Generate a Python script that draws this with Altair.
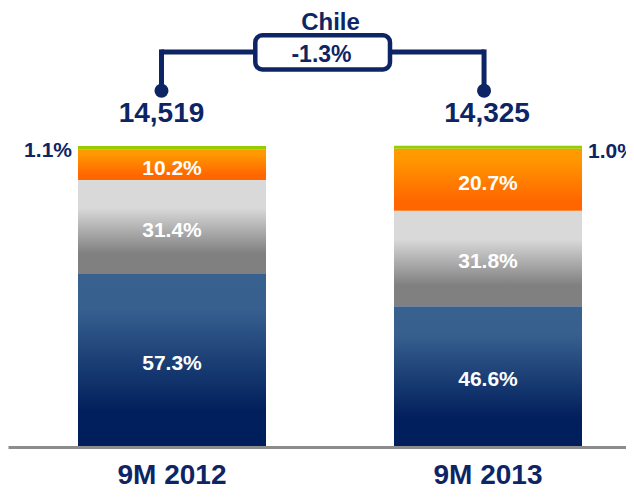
import altair as alt
import pandas as pd

# ---------------- data ----------------
periods = ["9M 2012", "9M 2013"]
totals = [14519, 14325]
region = "Chile"
change_label = "-1.3%"
segments = ["Segment 1", "Segment 2", "Segment 3", "Segment 4"]  # bottom -> top
share_2012 = [57.3, 31.4, 10.2, 1.1]
share_2013 = [46.6, 31.8, 20.7, 1.0]

# ---------------- styles ----------------
NAVY = "#0E2565"
FONT = "Liberation Sans"


def vgrad(stops):
    return alt.LinearGradient(
        gradient="linear", x1=0, y1=0, x2=0, y2=1,
        stops=[alt.GradientStop(offset=o, color=c) for o, c in stops],
    )


seg_fill = [
    vgrad([(0, "#38618F"), (0.2, "#37608F"), (0.8, "#011F5C"), (1, "#001E5B")]),
    vgrad([(0, "#D9D9D9"), (0.3, "#D9D9D9"), (0.78, "#808080"), (1, "#808080")]),
    vgrad([(0, "#FF9A00"), (0.15, "#FF9900"), (0.85, "#FF6600"), (1, "#FF6600")]),
    "#99CC00",
]

# ---------------- table built from the arrays ----------------
rows = []
for p, shares in zip(periods, [share_2012, share_2013]):
    base = 0.0
    for s, v in zip(segments, shares):
        rows.append(dict(period=p, segment=s, share=v, y0=base, y1=base + v,
                         mid=base + v / 2, label=f"{v:.1f}%"))
        base += v
df = pd.DataFrame(rows)
tot_df = pd.DataFrame(dict(period=periods, total=totals))
pair_df = pd.DataFrame(dict(a=[periods[0]], b=[periods[1]], region=[region],
                            change=[change_label]))

# ---------------- layout (value units on the y scale) ----------------
Y_DOMAIN = [-14.667, 146.0]
Y_TOTAL = 108.0
Y_DOT = 118.4
Y_BRACKET = 131.3
Y_BRACKET_TOP = 132.2
Y_BOX_TOP = 136.9
Y_BOX_BOT = 125.5
Y_CHANGE = 128.0
Y_REGION = 138.6
vert_bp = [0.444, 0.479]
total_bp = [0.444, 0.495]

xscale = alt.Scale(domain=periods, range=[0, 644], paddingInner=0.405, paddingOuter=0.2215)
xaxis = alt.Axis(domainColor="#8C8C8C", domainWidth=3, ticks=False, tickSize=0,
                 labelFont=FONT, labelFontWeight="bold", labelFontSize=28,
                 labelColor=NAVY, labelPadding=14, offset=-43, labelAngle=0,
                 grid=False, labelLimit=400)
yscale = alt.Scale(domain=Y_DOMAIN, nice=False, zero=False)


def X(field, bp=None):
    if bp is None:
        return alt.X(field, type="nominal", scale=xscale, axis=xaxis, title=None)
    return alt.X(field, type="nominal", scale=xscale, axis=xaxis, title=None, bandPosition=bp)


def Y(field=None, value=None):
    if value is not None:
        return alt.Y(datum=value, type="quantitative", scale=yscale, axis=None)
    return alt.Y(field, type="quantitative", scale=yscale, axis=None, title=None)


layers = []

# stacked bars
for seg, fill in zip(segments, seg_fill):
    layers.append(
        alt.Chart(df).transform_filter(alt.datum.segment == seg)
        .mark_bar(fill=fill, strokeWidth=0)
        .encode(x=X("period"), y=Y("y0"), y2="y1")
    )

# labels inside bars
layers.append(
    alt.Chart(df).transform_filter(alt.datum.segment != segments[-1])
    .mark_text(color="white", font=FONT, fontWeight="bold", fontSize=21,
               baseline="alphabetic", dy=10)
    .encode(x=X("period"), y=Y("mid"), text="label:N")
)

# small top-segment labels outside the bars
layers.append(
    alt.Chart(df).transform_filter((alt.datum.segment == segments[-1]) & (alt.datum.period == periods[0]))
    .mark_text(color=NAVY, font=FONT, fontWeight="bold", fontSize=21,
               baseline="alphabetic", align="right", dx=-6, dy=11)
    .encode(x=X("period", 0), y=Y("y1"), text="label:N")
)
layers.append(
    alt.Chart(df).transform_filter((alt.datum.segment == segments[-1]) & (alt.datum.period == periods[1]))
    .mark_text(color=NAVY, font=FONT, fontWeight="bold", fontSize=21,
               baseline="alphabetic", align="left", dx=6, dy=12)
    .encode(x=X("period", 1), y=Y("y1"), text="label:N")
)

# totals, bracket legs and dots
for i, p in enumerate(periods):
    layers.append(
        alt.Chart(tot_df).transform_filter(alt.datum.period == p)
        .mark_text(color=NAVY, font=FONT, fontWeight="bold", fontSize=28, baseline="alphabetic")
        .encode(x=X("period", total_bp[i]), y=Y(value=Y_TOTAL), text=alt.Text("total:Q", format=","))
    )
    layers.append(
        alt.Chart(tot_df).transform_filter(alt.datum.period == p)
        .mark_rule(color=NAVY, strokeWidth=5)
        .encode(x=X("period", vert_bp[i]), y=Y(value=Y_DOT), y2=alt.Y2(datum=Y_BRACKET_TOP))
    )
    layers.append(
        alt.Chart(tot_df).transform_filter(alt.datum.period == p)
        .mark_point(shape="circle", filled=True, size=196, color=NAVY, opacity=1)
        .encode(x=X("period", vert_bp[i]), y=Y(value=Y_DOT))
    )

# bracket horizontal
layers.append(
    alt.Chart(pair_df).mark_rule(color=NAVY, strokeWidth=5)
    .encode(x=X("a", vert_bp[0]), x2=alt.X2("b", bandPosition=vert_bp[1]), y=Y(value=Y_BRACKET))
)
# change box
layers.append(
    alt.Chart(pair_df).mark_rect(fill="white", stroke=NAVY, strokeWidth=4.5, cornerRadius=7, x2Offset=-4)
    .encode(x=X("a", 0.943), x2=alt.X2("b", bandPosition=0),
            y=Y(value=Y_BOX_TOP), y2=alt.Y2(datum=Y_BOX_BOT))
)
layers.append(
    alt.Chart(pair_df).mark_text(color=NAVY, font=FONT, fontWeight="bold", fontSize=23,
                                 baseline="alphabetic", dx=55.5)
    .encode(x=X("a", 1), y=Y(value=Y_CHANGE), text="change:N")
)
layers.append(
    alt.Chart(pair_df).mark_text(color=NAVY, font=FONT, fontWeight="bold", fontSize=24,
                                 baseline="alphabetic", dx=64.5)
    .encode(x=X("a", 1), y=Y(value=Y_REGION), text="region:N")
)

chart = (
    alt.layer(*layers)
    .properties(width=618, height=482, padding=0, autosize="none")
    .configure_view(stroke=None)
)

chart.save("out.html", embed_options={"renderer": "svg", "actions": False})
